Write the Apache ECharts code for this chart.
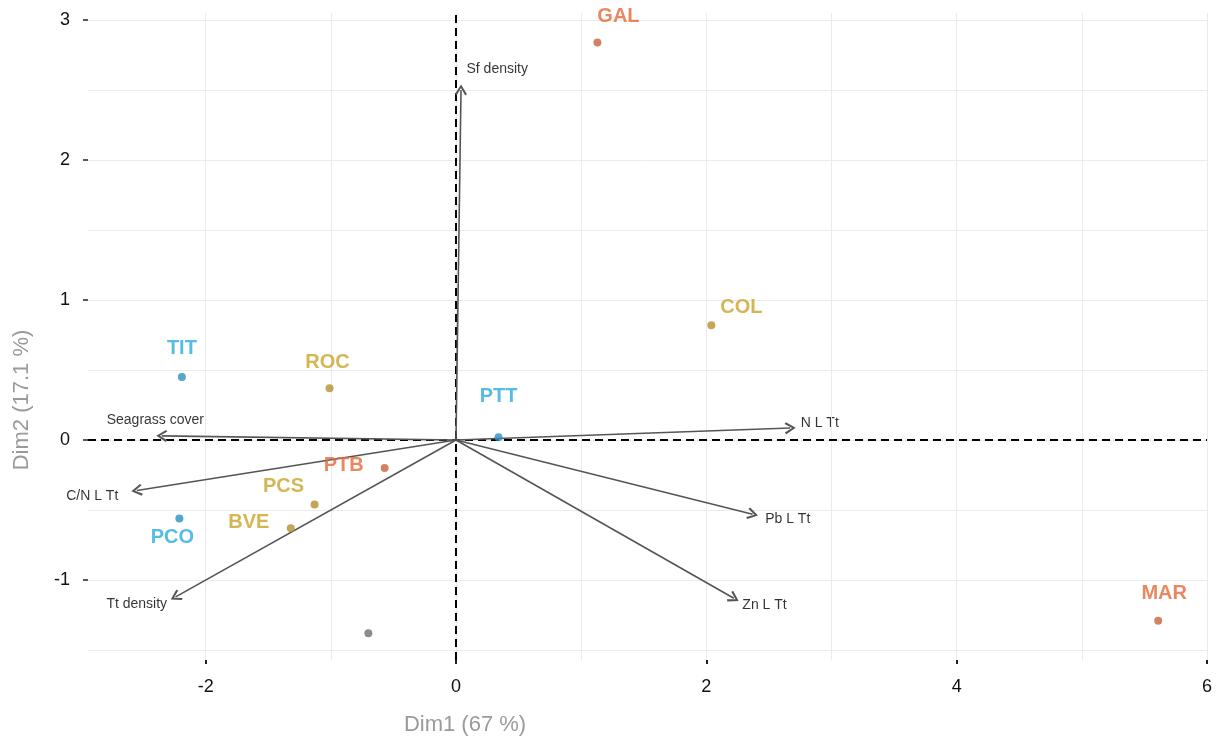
<!DOCTYPE html>
<html>
<head>
<meta charset="utf-8">
<script src="https://cdn.jsdelivr.net/npm/echarts@6/dist/echarts.min.js"></script>
<style>
html,body{margin:0;padding:0;background:#fff;}
#chart{width:1220px;height:744px;}
</style>
</head>
<body>
<div id="chart"></div>
<script>
// ---- Data ----
const siteNames = ['GAL','COL','TIT','ROC','PTT','PTB','PCS','BVE','PCO','','MAR'];
const siteX     = [1.13, 2.04, -2.19, -1.01, 0.34, -0.57, -1.13, -1.32, -2.21, -0.70, 5.61];
const siteY     = [2.84, 0.82, 0.45, 0.37, 0.02, -0.20, -0.46, -0.63, -0.56, -1.38, -1.29];
const siteGroup = ['orange','gold','blue','gold','blue','orange','gold','gold','blue','gray','orange'];

const varNames = ['Sf density','N L Tt','Pb L Tt','Zn L Tt','Seagrass cover','C/N L Tt','Tt density'];
const varX     = [0.04, 2.67, 2.37, 2.22, -2.35, -2.55, -2.24];
const varY     = [2.50, 0.086, -0.53, -1.13, 0.03, -0.36, -1.12];

const xTickLabels = [-2, 0, 2, 4, 6];
const yTickLabels = [-1, 0, 1, 2, 3];
const xGrid = [-2, -1, 0, 1, 2, 3, 4, 5, 6];
const yGrid = [-1.5, -1, -0.5, 0, 0.5, 1, 1.5, 2, 2.5, 3];
const xAxisTitle = 'Dim1 (67 %)';
const yAxisTitle = 'Dim2 (17.1 %)';

// ---- Styles ----
const FONT = 'Liberation Sans, Arial, sans-serif';
const groupDot   = {orange:'#c5653f', gold:'#b58f2f', blue:'#2b8fc0', gray:'#6f6f6f'};
const groupLabel = {orange:'#e4693a', gold:'#c9a42a', blue:'#2aabdf', gray:'#6f6f6f'};
const siteLabelOffset = {
  GAL:[25,-22], COL:[34,-14], TIT:[4,-25], ROC:[2,-22], PTT:[4,-37],
  PTB:[-37,1], PCS:[-27,-14], BVE:[-38,-2], PCO:[-3,23], MAR:[10,-23]
};
const varLabelStyle = {
  'Sf density':    {off:[6,-20], align:'left'},
  'N L Tt':        {off:[11,-4], align:'left'},
  'Pb L Tt':       {off:[13,5], align:'left'},
  'Zn L Tt':       {off:[9,7], align:'left'},
  'Seagrass cover':{off:[-6,-15], align:'center'},
  'C/N L Tt':      {off:[-18,6], align:'right'},
  'Tt density':    {off:[-8,8], align:'right'}
};
const chevron = 'path://M5,0 L10,8 L8.6,9.2 L5,3 L1.4,9.2 L0,8 Z';

const siteData = siteNames.map((n, i) => {
  const g = siteGroup[i];
  const off = siteLabelOffset[n] || [0,0];
  return {
    value: [siteX[i], siteY[i]],
    itemStyle: {color: groupDot[g]},
    label: {
      show: n !== '',
      formatter: n,
      position: off,
      align: 'center',
      verticalAlign: 'middle',
      color: groupLabel[g],
      fontSize: 20,
      fontWeight: 'bold',
      fontFamily: FONT
    }
  };
});

const varLabelData = varNames.map((n, i) => {
  const s = varLabelStyle[n];
  return {
    value: [varX[i], varY[i]],
    label: {
      show: true, formatter: n, position: s.off, align: s.align,
      verticalAlign: 'middle', color: '#000', fontSize: 14, fontFamily: FONT
    }
  };
});

const arrowLines = varNames.map((n, i) => [
  {coord: [0, 0], symbol: 'none'},
  {coord: [varX[i], varY[i]], symbol: chevron, symbolSize: [12, 11]}
]);

const gridLines = xGrid.map(v => ({xAxis: v})).concat(yGrid.map(v => ({yAxis: v})));

const chart = echarts.init(document.getElementById('chart'), null, {renderer: 'canvas'});
chart.setOption({
  backgroundColor: '#ffffff',
  animation: false,
  grid: {left: 88, right: 13, top: 13, bottom: 84, containLabel: false, outerBoundsMode: 'none'},
  xAxis: {
    type: 'value', min: -2.94, max: 6,
    axisLine: {show: false, onZero: false},
    axisTick: {show: true, customValues: xTickLabels, length: 4, lineStyle: {color: '#222', width: 2}},
    axisLabel: {customValues: xTickLabels, color: '#111', fontSize: 18, fontFamily: FONT, margin: 18},
    splitLine: {show: false}
  },
  yAxis: {
    type: 'value', min: -1.571, max: 3.05,
    axisLine: {show: false, onZero: false},
    axisTick: {show: true, customValues: yTickLabels, length: 5, lineStyle: {color: '#222', width: 1.5}},
    axisLabel: {customValues: yTickLabels, color: '#111', fontSize: 18, fontFamily: FONT, margin: 18},
    splitLine: {show: false}
  },
  graphic: [
    {type: 'text', x: 465, y: 725, style: {text: xAxisTitle, fill: '#9a9a9a', font: '22px ' + FONT, textAlign: 'center', textVerticalAlign: 'middle'}},
    {type: 'text', x: 22, y: 400, rotation: Math.PI / 2, style: {text: yAxisTitle, fill: '#9a9a9a', font: '22px ' + FONT, textAlign: 'center', textVerticalAlign: 'middle'}}
  ],
  series: [
    {
      type: 'scatter', data: [], silent: true, z: 1,
      markLine: {
        silent: true, symbol: 'none', animation: false,
        label: {show: false},
        lineStyle: {color: '#ebebeb', width: 1, type: 'solid'},
        data: gridLines
      }
    },
    {
      type: 'scatter', data: [], silent: true, z: 2,
      markLine: {
        silent: true, symbol: 'none', animation: false,
        label: {show: false},
        lineStyle: {color: '#000', width: 2, type: [8, 5]},
        data: [{xAxis: 0}, {yAxis: 0}]
      }
    },
    {
      type: 'scatter', data: [], silent: true, z: 3,
      markLine: {
        silent: true, animation: false,
        label: {show: false},
        lineStyle: {color: '#555', width: 1.6, type: 'solid'},
        data: arrowLines
      }
    },
    {
      type: 'scatter', silent: true, z: 4,
      symbolSize: 1, itemStyle: {color: 'rgba(0,0,0,0)'},
      data: varLabelData
    },
    {
      type: 'scatter', silent: true, z: 5,
      symbolSize: 8,
      data: siteData
    }
  ]
});
</script>
</body>
</html>
